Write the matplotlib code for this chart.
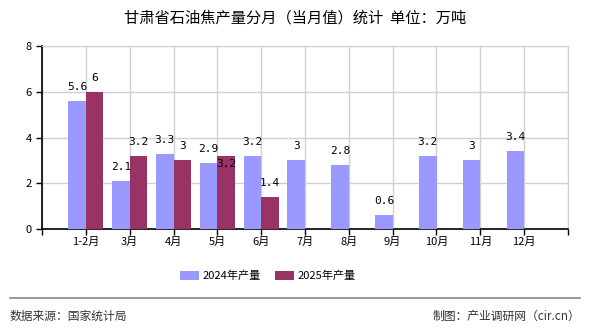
import matplotlib
matplotlib.use("Agg")
import matplotlib.pyplot as plt
import numpy as np

plt.rcParams['font.family'] = ['Noto Sans CJK SC', 'DejaVu Sans']

categories = ["1-2月", "3月", "4月", "5月", "6月", "7月", "8月", "9月", "10月", "11月", "12月"]
values_2024 = [5.6, 2.1, 3.3, 2.9, 3.2, 3, 2.8, 0.6, 3.2, 3, 3.4]
values_2025 = [6, 3.2, 3, 3.2, 1.4]
series_names = ["2024年产量", "2025年产量"]
yticks = [0, 2, 4, 6, 8]
title = "甘肃省石油焦产量分月（当月值）统计  单位：万吨"
source = "数据来源：国家统计局"
maker = "制图：产业调研网（cir.cn）"

c24 = "#9999FF"
c25 = "#993366"

fig = plt.figure(figsize=(5.9, 3.3), dpi=100)
ax = fig.add_axes([42/590, 1-229/330, (568-42)/590, (229-46)/330])

x24 = np.arange(1, len(values_2024) + 1)
x25 = np.arange(1, len(values_2025) + 1)
w = 0.4
ax.bar(x24 - w/2, values_2024, width=w, color=c24, label=series_names[0], zorder=3)
ax.bar(x25 + w/2, values_2025, width=w, color=c25, label=series_names[1], zorder=3)

lblfont = dict(fontsize=8, family=['DejaVu Sans Mono', 'DejaVu Sans'], ha='center', va='center', zorder=4)
for xi, v in zip(x24, values_2024):
    ax.annotate(f"{v:g}", (xi - w/2, v), xytext=(0, 10), textcoords='offset points', **lblfont)
for i, (xi, v) in enumerate(zip(x25, values_2025)):
    off = -6 if i == 3 else 10
    ax.annotate(f"{v:g}", (xi + w/2, v), xytext=(0, off), textcoords='offset points', **lblfont)

ax.set_xlim(0, 12)
ax.set_ylim(0, 8)
ax.set_yticks(yticks)
ax.set_xticks(np.arange(0, 13))
ax.set_xticklabels([""] + categories + [""])
ax.tick_params(axis='both', labelsize=8, length=4, width=1, colors='black')
ax.tick_params(axis='x', pad=2)
ax.grid(True, color='#d0d0d0', linewidth=1, zorder=0)
ax.set_axisbelow(True)
for s in ['top', 'right']:
    ax.spines[s].set_color('#d0d0d0')
for s in ['left', 'bottom']:
    ax.spines[s].set_color('black')
    ax.spines[s].set_linewidth(1.2)

fig.text(0.5, 1-18/330, title, ha='center', va='center', fontsize=11)

leg = fig.legend(loc='center left', bbox_to_anchor=(170/590, 1-276/330), ncol=2, frameon=False,
                 fontsize=8, handlelength=1.7, handleheight=0.8, columnspacing=1.3, handletextpad=0.3)

fig.add_artist(plt.Line2D([10/590, 580/590], [1-298/330, 1-298/330], color='#888888', linewidth=1.2))
fig.text(10/590, 1-316/330, source, ha='left', va='center', fontsize=8.5, color='#333333')
fig.text(580/590, 1-316/330, maker, ha='right', va='center', fontsize=8.5, color='#333333')

fig.savefig("out.png", dpi=100)
